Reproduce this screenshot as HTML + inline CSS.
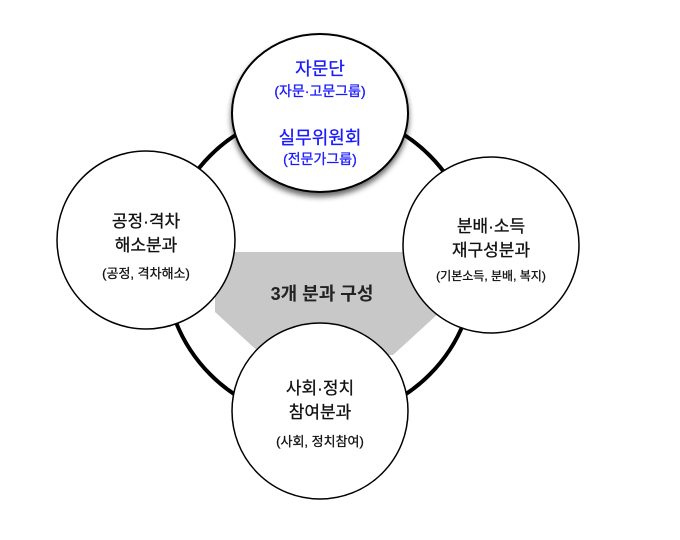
<!DOCTYPE html>
<html><head><meta charset="utf-8"><style>
body{margin:0;background:#fff;}
svg text{font-family:"Liberation Sans","Noto Sans CJK KR",sans-serif;text-anchor:middle;}
</style></head><body>
<svg width="680" height="535" viewBox="0 0 680 535">
<defs><filter id="sh" x="-20%" y="-20%" width="140%" height="140%"><feGaussianBlur in="SourceAlpha" stdDeviation="3"/><feOffset dx="0" dy="4"/><feComponentTransfer><feFuncA type="linear" slope="0.6"/></feComponentTransfer><feMerge><feMergeNode/><feMergeNode in="SourceGraphic"/></feMerge></filter></defs>
<circle cx="320" cy="265" r="155" fill="none" stroke="#000" stroke-width="4"/>
<polygon points="215,252 440,252 440,312 393,355 262,355 215,312" fill="#c8c8c8"/>
<text x="322" y="300" font-size="18" font-weight="bold" fill="#222">3개 분과  구성</text>
<ellipse cx="320" cy="113" rx="88" ry="79" fill="#fff" stroke="#000" stroke-width="2" filter="url(#sh)"/>
<g fill="#1a1aff" stroke="#1a1aff" stroke-width="0.3">
<text x="320" y="75" font-size="18">자문단</text>
<text x="320" y="96" font-size="14">(자문·고문그룹)</text>
<text x="320" y="144" font-size="18">실무위원회</text>
<text x="320" y="164" font-size="14">(전문가그룹)</text>
</g>
<ellipse cx="146" cy="240" rx="89" ry="89" fill="#fff" stroke="#000" stroke-width="1.5"/>
<g fill="#111" stroke="#111" stroke-width="0.3">
<text x="146" y="227" font-size="17">공정·격차</text>
<text x="146" y="251" font-size="17">해소분과</text>
<text x="146" y="278" font-size="13">(공정, 격차해소)</text>
</g>
<ellipse cx="491" cy="245" rx="88" ry="88" fill="#fff" stroke="#000" stroke-width="1.5"/>
<g fill="#111" stroke="#111" stroke-width="0.3">
<text x="491" y="232" font-size="17">분배·소득</text>
<text x="491" y="256" font-size="17">재구성분과</text>
<text x="491" y="280" font-size="12">(기본소득, 분배, 복지)</text>
</g>
<ellipse cx="320" cy="411" rx="88" ry="88" fill="#fff" stroke="#000" stroke-width="1.5"/>
<g fill="#111" stroke="#111" stroke-width="0.3">
<text x="320" y="394" font-size="17">사회·정치</text>
<text x="320" y="418" font-size="17">참여분과</text>
<text x="320" y="446" font-size="13">(사회, 정치참여)</text>
</g>
</svg>
</body></html>
